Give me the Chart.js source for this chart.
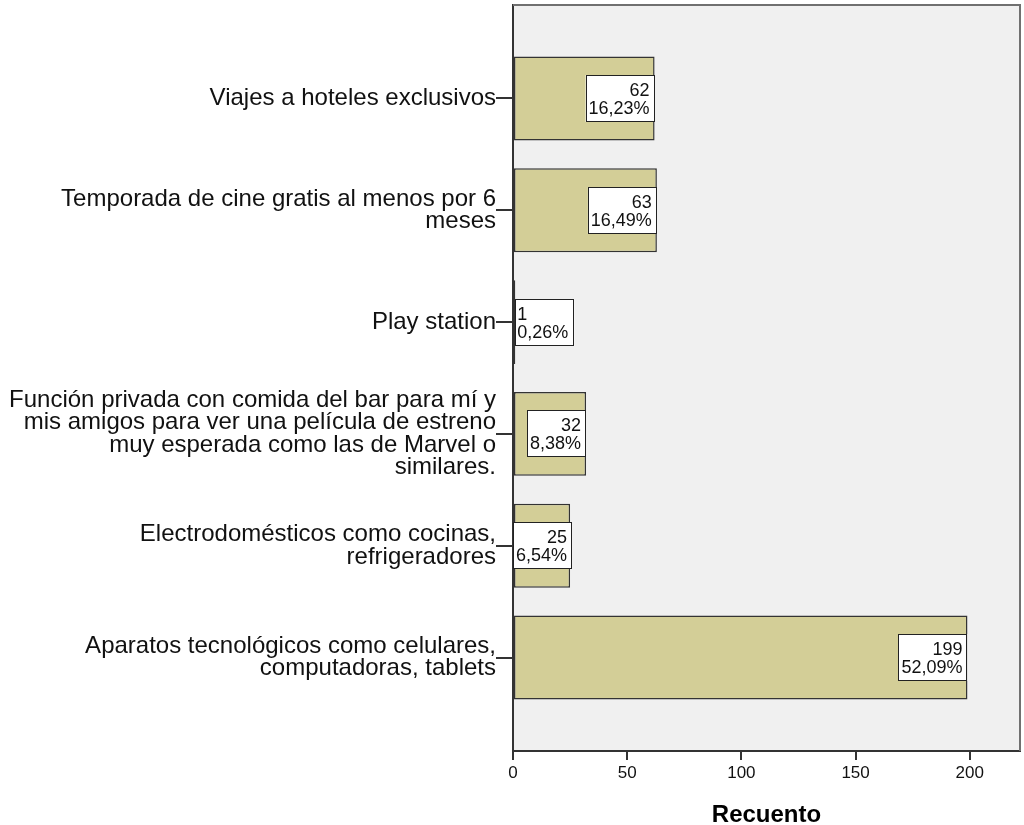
<!DOCTYPE html>
<html>
<head>
<meta charset="utf-8">
<script src="https://cdn.jsdelivr.net/npm/chart.js@4/dist/chart.umd.min.js"></script>
<style>
  body { margin: 0; background: #fff; }
  #wrap { width: 1024px; height: 825px; }
</style>
</head>
<body>
<div id="wrap"><canvas id="recuentoChart"></canvas></div>
<script>
// categorias (una linea por elemento del array)
const categories = [
  ['Viajes a hoteles exclusivos'],
  ['Temporada de cine gratis al menos por 6', 'meses'],
  ['Play station'],
  ['Función privada con comida del bar para mí y', 'mis amigos para ver una película de estreno', 'muy esperada como las de Marvel o', 'similares.'],
  ['Electrodomésticos como cocinas,', 'refrigeradores'],
  ['Aparatos tecnológicos como celulares,', 'computadoras, tablets']
];
const counts = [62, 63, 1, 32, 25, 199];
const percents = ['16,23%', '16,49%', '0,26%', '8,38%', '6,54%', '52,09%'];
const xTicks = [0, 50, 100, 150, 200];

const FONT = '"Liberation Sans", Arial, sans-serif';
Chart.defaults.font.family = FONT;

// fondo gris y marco del area de grafico
const plotFrame = {
  id: 'plotFrame',
  beforeDraw(chart) {
    const { ctx, chartArea: a } = chart;
    ctx.save();
    ctx.fillStyle = '#f0f0f0';
    ctx.fillRect(a.left, a.top, a.right - a.left, a.bottom - a.top);
    ctx.restore();
  },
  afterDraw(chart) {
    const { ctx, chartArea: a } = chart;
    ctx.save();
    ctx.strokeStyle = '#707070';
    ctx.lineWidth = 2;
    ctx.beginPath();
    ctx.moveTo(a.left, a.top);
    ctx.lineTo(a.right, a.top);
    ctx.lineTo(a.right, a.bottom);
    ctx.stroke();
    ctx.restore();
  }
};

// etiquetas con recuento y porcentaje
const boxLabels = {
  id: 'boxLabels',
  afterDatasetsDraw(chart) {
    const ctx = chart.ctx;
    const meta = chart.getDatasetMeta(0);
    ctx.save();
    ctx.font = '18px ' + FONT;
    ctx.textBaseline = 'alphabetic';
    meta.data.forEach((bar, i) => {
      const l1 = String(counts[i]);
      const l2 = percents[i];
      const tw = Math.max(ctx.measureText(l1).width, ctx.measureText(l2).width);
      const w = Math.round(tw + 8), h = 47;
      const inside = (bar.x - bar.base) >= w - 4;
      let left = inside ? bar.x - w : bar.x;
      left = Math.max(left, chart.chartArea.left);
      const top = Math.round(bar.y - h / 2);
      ctx.fillStyle = '#fff';
      ctx.fillRect(left, top, w, h);
      ctx.strokeStyle = '#222';
      ctx.lineWidth = 1;
      ctx.strokeRect(Math.round(left) + 0.5, top + 0.5, w - 1, h - 1);
      ctx.fillStyle = '#111';
      if (inside) {
        ctx.textAlign = 'right';
        ctx.fillText(l1, left + w - 5, top + 21);
        ctx.fillText(l2, left + w - 5, top + 39);
      } else {
        ctx.textAlign = 'left';
        ctx.fillText(l1, left + 2, top + 21);
        ctx.fillText(l2, left + 2, top + 39);
      }
    });
    ctx.restore();
  }
};

const ctx = document.getElementById('recuentoChart').getContext('2d');
new Chart(ctx, {
  type: 'bar',
  data: {
    datasets: [{
      data: counts.map((v, i) => ({ x: v, y: i })),
      backgroundColor: '#d3ce97',
      borderColor: '#333',
      borderWidth: 1.5,
      borderSkipped: false,
      categoryPercentage: 1,
      barPercentage: 0.75
    }]
  },
  options: {
    indexAxis: 'y',
    responsive: true,
    maintainAspectRatio: false,
    animation: false,
    layout: { padding: { top: 5, right: 4, left: 0, bottom: 0 } },
    plugins: {
      legend: { display: false },
      tooltip: { enabled: false }
    },
    scales: {
      y: {
        type: 'linear',
        reverse: true,
        offset: false,
        min: -0.836,
        max: 5.836,
        afterBuildTicks: s => { s.ticks = categories.map((_, i) => ({ value: i })); },
        afterFit: s => { s.width = 513; s.paddingTop = 0; s.paddingBottom = 0; },
        ticks: {
          autoSkip: false,
          padding: 0,
          color: '#111',
          font: { size: 24, lineHeight: 0.94 },
          callback: (v, i) => categories[i]
        },
        grid: { offset: false, drawOnChartArea: false, tickLength: 17, color: '#333', lineWidth: 2 },
        border: { color: '#333', width: 2 }
      },
      x: {
        type: 'linear',
        min: 0,
        max: 222,
        afterBuildTicks: s => { s.ticks = xTicks.map(v => ({ value: v })); },
        afterFit: s => { s.height = 74; },
        ticks: { padding: 3, color: '#111', font: { size: 17 } },
        grid: { drawOnChartArea: false, tickLength: 9, color: '#333', lineWidth: 2 },
        border: { color: '#333', width: 2 },
        title: {
          display: true,
          text: 'Recuento',
          color: '#000',
          font: { size: 24, weight: 'bold' },
          padding: { top: 0, bottom: -5 }
        }
      }
    }
  },
  plugins: [plotFrame, boxLabels]
});
</script>
</body>
</html>
